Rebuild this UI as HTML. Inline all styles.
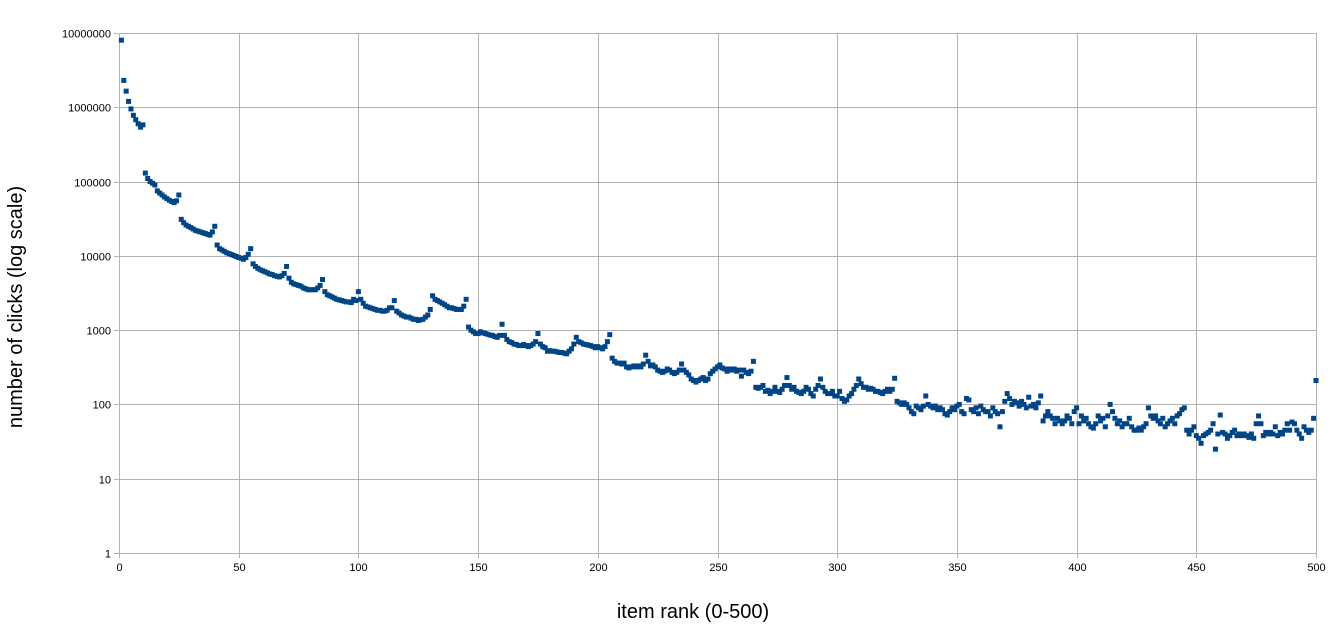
<!DOCTYPE html>
<html><head><meta charset="utf-8">
<style>
html,body{margin:0;padding:0;background:#fff;}
svg{display:block;font-family:"Liberation Sans",sans-serif;}
</style></head>
<body>
<svg id="chart" width="1332" height="632" viewBox="0 0 1332 632" xmlns="http://www.w3.org/2000/svg">
<g id="grid"></g>
<g id="axes"></g>
<g id="points"></g>
<text transform="translate(22,307) rotate(-90)" text-anchor="middle" font-size="20" fill="#000">number of clicks (log scale)</text>
<text x="693" y="618" text-anchor="middle" font-size="20" fill="#000">item rank (0-500)</text>
</svg>
<script>
const xTicks=[0,50,100,150,200,250,300,350,400,450,500];
const yTicks=[1,10,100,1000,10000,100000,1000000,10000000];
const yTickLabels=["1","10","100","1000","10000","100000","1000000","10000000"];
const clicks=[
8000000,2300000,1650000,1200000,950000,780000,680000,600000,540000,580000,
130000,110000,100000,95000,90000,75000,70000,66000,62000,59000,56000,54000,52000,55000,66000,
31000,28000,26000,25000,24000,23000,22000,21500,21000,20500,20000,19500,19000,21000,25000,
14000,12500,12000,11500,11000,10700,10400,10100,9800,9500,9300,9000,9500,10500,12500,
7800,7200,6800,6500,6300,6100,5900,5700,5600,5400,5300,5200,5400,5800,7200,
5000,4400,4200,4100,4000,3900,3700,3600,3500,3500,3500,3500,3700,4000,4800,
3300,3000,2900,2800,2700,2600,2550,2500,2450,2400,2400,2350,2600,2500,3300,
2600,2300,2100,2050,2000,1950,1900,1850,1850,1800,1800,1850,2000,2000,2500,
1800,1700,1600,1550,1500,1500,1450,1400,1400,1350,1380,1400,1500,1600,1900,
2900,2600,2500,2400,2300,2200,2100,2000,2000,1950,1900,1900,1900,2100,2600,
1100,1000,950,900,900,950,920,900,880,860,850,820,800,850,1200,
850,750,700,680,650,640,620,620,640,620,600,620,650,700,900,
650,600,580,520,530,520,520,510,500,500,490,480,520,560,650,
800,700,680,650,640,630,620,600,580,600,580,560,600,700,870,
420,380,360,360,350,360,320,310,320,330,320,330,320,350,460,
380,330,340,320,290,280,270,280,300,290,270,260,270,290,350,
290,270,250,220,210,200,210,220,230,210,220,260,280,300,320,
340,310,300,280,300,290,300,280,290,240,290,270,260,280,380,
170,165,170,180,150,155,140,150,170,150,145,160,180,230,180,
160,170,150,145,140,150,170,160,140,130,160,180,220,170,150,
140,140,150,130,130,150,120,110,115,130,140,160,180,220,190,
170,170,160,165,160,150,150,145,140,150,160,150,160,225,110,
105,100,105,100,90,80,75,95,90,85,95,130,100,95,90,
95,85,90,85,75,72,80,90,85,95,100,80,75,120,115,
85,80,90,75,95,85,80,80,70,90,80,75,50,80,110,
140,120,100,110,105,95,110,100,90,125,95,100,90,105,130,
60,70,80,70,65,55,65,60,55,60,70,65,55,80,90,
55,70,60,65,55,50,48,55,70,60,65,50,70,100,80,
65,55,60,50,55,55,65,50,45,45,48,45,50,55,90,
70,65,70,60,55,65,50,55,60,65,55,70,75,85,90,
45,40,45,50,38,35,30,38,40,42,45,55,25,40,72,
42,40,35,38,42,45,38,40,38,40,38,36,40,35,55,
70,55,38,42,40,42,40,50,38,42,40,45,55,45,58,
55,45,40,35,50,45,42,45,65,210
];
const ranks=clicks.map((_,i)=>i+1);
const L=119,R=1316,T=33,B=553;
const xScale=v=>L+(v/500)*(R-L);
const yScale=v=>B-(Math.log10(v)/7)*(B-T);
const NS="http://www.w3.org/2000/svg";
function mk(tag,attrs,parent){const e=document.createElementNS(NS,tag);for(const k in attrs)e.setAttribute(k,attrs[k]);parent.appendChild(e);return e;}
const grid=document.getElementById('grid'),axes=document.getElementById('axes'),pts=document.getElementById('points');
yTicks.forEach((t,i)=>{
  const y=Math.round(yScale(t))+0.5;
  const gl=mk('line',{x1:L,x2:R,y1:y,y2:y,stroke:'#b3b3b3','stroke-width':1},grid);
  
  
  mk('line',{x1:L-5,x2:L,y1:y,y2:y,stroke:'#b3b3b3','stroke-width':1},axes);
  const tx=mk('text',{x:L-8,y:y+4,'text-anchor':'end','font-size':11,fill:'#000'},axes);
  tx.textContent=yTickLabels[i];
  
  
});
xTicks.forEach(t=>{
  const x=Math.round(xScale(t))+0.5;
  const gl=mk('line',{x1:x,x2:x,y1:T,y2:B,stroke:'#b3b3b3','stroke-width':1},grid);
  
  
  mk('line',{x1:x,x2:x,y1:B,y2:B+5,stroke:'#b3b3b3','stroke-width':1},axes);
  const tx=mk('text',{x:x,y:B+18,'text-anchor':'middle','font-size':11,fill:'#000'},axes);
  tx.textContent=String(t);
  
  
});
clicks.forEach((v,i)=>{
  const r=mk('rect',{x:xScale(ranks[i])-2.5,y:yScale(v)-2.5,width:5,height:5,fill:'#004586'},pts);
  
  
});
</script>
</body></html>
